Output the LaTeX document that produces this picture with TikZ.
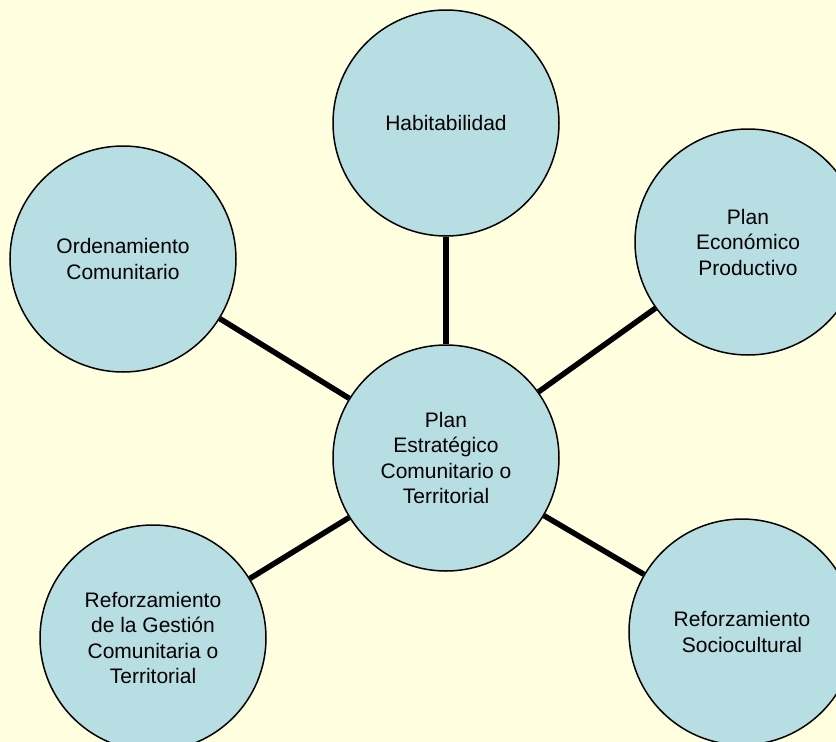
\documentclass[tikz,border=0pt]{standalone}
\usepackage{fontspec}
\setmainfont{Liberation Sans}
\usepackage{tikz}
\usetikzlibrary{shapes,arrows.meta}
\definecolor{fondo}{HTML}{FFFFE0}
\definecolor{celeste}{HTML}{B7DFE3}
\tikzstyle{circulo} = [circle, draw=black, line width=1.5pt, fill=celeste, minimum size=226pt, inner sep=0pt, align=center, font=\fontsize{21}{25.5}\selectfont]
\tikzstyle{linea} = [draw, line width=5.5pt]

\begin{document}
\begin{tikzpicture}[x=1pt, y=-1pt]
		            \useasboundingbox (0,0) rectangle (836,742);
		            \clip (0,0) rectangle (836,742);
		                \fill [fondo] (0,0) rectangle (836,742);
		                \node [circulo] (centro) at (446,458) {Plan\\Estratégico\\Comunitario o\\Territorial};
		                \node [circulo] (habit) at (446,123) {Habitabilidad};
		                \node [circulo] (econ) at (748,242) {Plan\\Económico\\Productivo};
		                \node [circulo] (orden) at (123,259) {Ordenamiento\\Comunitario};
		                \node [circulo] (gestion) at (153,638) {Reforzamiento\\de la Gestión\\Comunitaria o\\Territorial};
		                \node [circulo] (socio) at (742,632) {Reforzamiento\\Sociocultural};
		                \path [linea] (centro) -- (habit);
		                \path [linea] (centro) -- (econ);
		                \path [linea] (centro) -- (orden);
		                \path [linea] (centro) -- (gestion);
		                \path [linea] (centro) -- (socio);
		            \end{tikzpicture}
\end{document}
